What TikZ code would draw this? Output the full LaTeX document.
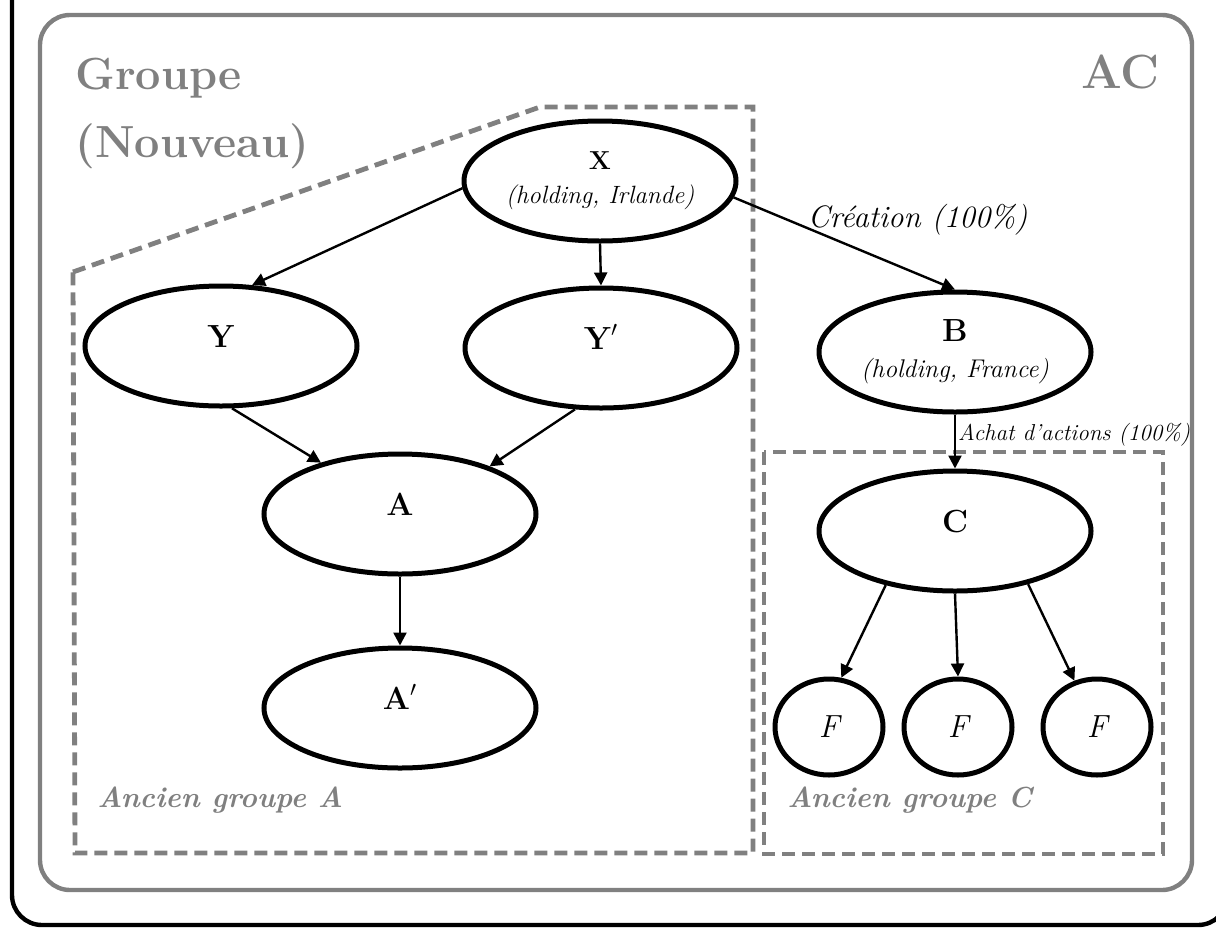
\documentclass[tikz,border=0pt]{standalone}
\usepackage{tikz}
\usetikzlibrary{arrows.meta}
\usetikzlibrary{shapes.geometric}

\begin{document}
\begin{tikzpicture}[x=0.5pt, y=-0.5pt,
    ent/.style={ellipse, draw, fill=white, line width=2.5pt, minimum width=136pt, minimum height=60pt, inner sep=0pt, align=center},
    lettre/.style={font=\fontsize{16}{18}\selectfont\bfseries, text height=11pt, text depth=10pt},
    filiale/.style={ellipse, draw, fill=white, line width=2.5pt, minimum width=54pt, minimum height=48pt, inner sep=0pt, font=\fontsize{16}{18}\selectfont\itshape},
    arr/.style={-{Triangle[length=6.5pt,width=6.5pt]}, line width=1.2pt},
    perim/.style={gray, dash pattern=on 6.5pt off 3.5pt, line width=2.4pt},
    titre/.style={gray, inner sep=0pt, font=\fontsize{22.5}{26}\selectfont\bfseries},
    ancien/.style={gray, inner sep=0pt, anchor=base west, font=\fontsize{14.5}{16}\selectfont\bfseries\itshape}]
    \useasboundingbox (0,0) rectangle (1216,927);
    \clip (0,0) rectangle (1216,927);

    % Cadres
    \draw[line width=2.2pt, rounded corners=15pt] (12,-60) rectangle (1228,925);
    \draw[gray, line width=2.2pt, rounded corners=15pt] (40,15) rectangle (1192,890);
    \node[titre, anchor=base west] (groupe) at (75,89) {Groupe};
    \node[titre, anchor=base west] (nouveau) at (75,157) {(Nouveau)};
    \node[titre, anchor=base east, font=\fontsize{24}{28}\selectfont\bfseries] (ac) at (1160,88) {AC};

    % Perimetres des anciens groupes
    \draw[perim] (73,272) -- (540,107) -- (753,107) -- (753,853) -- (75,853) -- cycle;
    \draw[perim] (764,452) rectangle (1163,854);
    \node[ancien] (ancA) at (97,807) {Ancien groupe A};
    \node[ancien] (ancC) at (787,807) {Ancien groupe C};

    % Societes
    \node[ent] (X) at (600,181) {{\fontsize{13}{15}\selectfont\bfseries X}\\[5pt]{\fontsize{12.5}{14}\selectfont\itshape (holding, Irlande)}};
    \node[ent, lettre] (Y) at (221,346) {Y};
    \node[ent, lettre] (Yp) at (601,348) {Y$'$};
    \node[ent, lettre] (A) at (400,514) {A};
    \node[ent, lettre] (Ap) at (400,708) {A$'$};
    \node[ent] (B) at (955,352) {{\fontsize{16}{18}\selectfont\bfseries B}\\[6pt]{\fontsize{12.8}{14}\selectfont\itshape (holding, France)}};
    \node[ent, lettre] (C) at (955,531) {C};
    \foreach \i/\x in {1/829,2/958,3/1097} {
        \node[filiale] (F\i) at (\x,727) {F};
    }

    % Liens
    \draw[arr] (X.183) -- (Y.63);
    \draw[arr] (X.south) -- (Yp.north);
    \draw[arr] (Y.280) -- (A.147);
    \draw[arr] (Yp.247) -- (A.28);
    \draw[arr] (A.south) -- (Ap.north);
    \draw[arr] (X.353) -- node[pos=0.33, anchor=base west, inner sep=0pt, font=\fontsize{15.5}{18}\selectfont\itshape] (crea) {Création (100\%)} (B.north);
    \draw[arr] (B.south) -- node[pos=0.48, anchor=base west, inner sep=1pt, font=\fontsize{11.5}{13}\selectfont\itshape] (achat) {Achat d’actions (100\%)} (C.north);
    \foreach \i/\a/\b in {1/218/76, 2/270/90, 3/324/116} {
        \draw[arr] (C.\a) -- (F\i.\b);
    }
\end{tikzpicture}
\end{document}
